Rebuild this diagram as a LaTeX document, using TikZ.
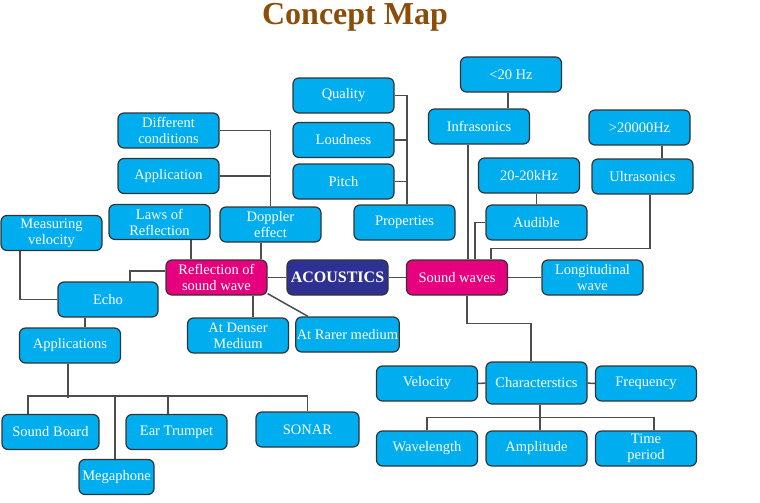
\documentclass[tikz,border=0pt]{standalone}
\usepackage{fontspec}
\setmainfont{Liberation Serif}
\usetikzlibrary{calc, backgrounds}
\definecolor{boxcyan}{RGB}{0,174,239}
\definecolor{hubpink}{RGB}{230,0,126}
\definecolor{rootblue}{RGB}{46,49,146}
\definecolor{boxline}{RGB}{51,51,51}
\definecolor{linkgray}{RGB}{77,77,77}
\definecolor{titlebrown}{RGB}{139,78,9}
\tikzset{
  topic/.style={rectangle, rounded corners=6pt, draw=boxline, line width=1.2pt,
    fill=boxcyan, text=white, minimum width=101pt, minimum height=35pt,
    inner sep=1pt, align=center, font=\fontsize{14.5}{16}\selectfont},
  hub/.style={topic, fill=hubpink},
  root/.style={topic, fill=rootblue, font=\fontsize{16}{18}\selectfont\bfseries},
  link/.style={draw=linkgray, line width=1.5pt}
}

\begin{document}
\begin{tikzpicture}[x=1pt, y=-1pt]
\useasboundingbox (0,0) rectangle (760,503);

\node[font=\fontsize{32}{34}\selectfont\bfseries, text=titlebrown, inner sep=0pt, anchor=base] (title) at (355,25) {Concept Map};

% Centre
\node[root] (acoustics)  at (337.5,277.5) {ACOUSTICS};
\node[hub]  (reflection) at (216.5,277.5) {Reflection of\\sound wave};
\node[hub]  (soundw)     at (457,277.5)   {Sound waves};

% Reflection branch
\node[topic] (diffcond)    at (168.5,130.5) {Different\\conditions};
\node[topic] (application) at (168.5,176)   {Application};
\node[topic] (laws)        at (159.5,222)   {Laws of\\Reflection};
\node[topic] (doppler)     at (270.5,224.5) {Doppler\\effect};
\node[topic] (measvel)     at (51.5,233)    {Measuring\\velocity};
\node[topic, minimum width=100pt] (echo) at (108,299.5) {Echo};
\node[topic] (denser)      at (238,335.5)   {At Denser\\Medium};
\node[topic, minimum width=103pt] (rarer) at (347.5,334.5) {At Rarer medium};
\node[topic] (applications) at (70,345.5)   {Applications};
\node[topic, minimum width=97pt] (soundboard) at (50.5,432) {Sound Board};
\node[topic, minimum width=75pt] (megaphone)  at (116.5,477) {Megaphone};
\node[topic] (eartrumpet)  at (176.5,432)   {Ear Trumpet};
\node[topic, minimum width=103pt] (sonar) at (307.5,429.5) {SONAR};

% Sound waves branch
\node[topic] (quality)    at (343.5,95.5)  {Quality};
\node[topic] (loudness)   at (343.5,140)   {Loudness};
\node[topic] (pitch)      at (343.5,181.5) {Pitch};
\node[topic] (properties) at (404.5,222.5) {Properties};
\node[topic] (lowhz)      at (511,74.5)    {<20 Hz};
\node[topic] (infra)      at (479,126.5)   {Infrasonics};
\node[topic] (midhz)      at (529,175.5)   {20-20kHz};
\node[topic] (audible)    at (536.5,222.5) {Audible};
\node[topic] (highhz)     at (639.5,127.5) {>20000Hz};
\node[topic] (ultra)      at (642.5,176.5) {Ultrasonics};
\node[topic] (longit)     at (592.5,277.5) {Longitudinal\\wave};
\node[topic, minimum height=42pt] (charac) at (536.5,383) {Characterstics};
\node[topic] (velocity)   at (427,383.5)   {Velocity};
\node[topic] (frequency)  at (646,383.5)   {Frequency};
\node[topic] (wavelength) at (427,448.5)   {Wavelength};
\node[topic] (amplitude)  at (536.5,448.5) {Amplitude};
\node[topic] (timeper)    at (646,448.5)   {Time\\period};

\begin{scope}[on background layer]
% ── Reflection ──────────────────────────────────────────
\draw[link] (reflection) -- (acoustics);
\draw[link] (diffcond.east) -| (doppler.north);
\draw[link] (application.east) -| (doppler.north);
\draw[link] ([xshift=31.5pt]laws.south) -- ([xshift=31.5pt]laws.south |- reflection.north);
\draw[link] ([xshift=-9.5pt]doppler.south) -- ([xshift=-9.5pt]doppler.south |- reflection.north);
\draw[link] ([xshift=-31.5pt]measvel.south) |- (echo.west);
\draw[link] ([xshift=22pt]echo.north) |- ([yshift=6.5pt]reflection.west);
\draw[link] ([xshift=36.5pt]reflection.south) -- ([xshift=36.5pt]reflection.south |- denser.north);
\draw[link] ([yshift=2pt]reflection.south east) -- ([xshift=-39.5pt]rarer.north);
\draw[link] ([xshift=-23pt]echo.south) -- ([xshift=-23pt]echo.south |- applications.north);
\draw[link] ([xshift=-2pt]applications.south) -- ++(0,34);
\draw[link] ([xshift=-22.5pt]soundboard.north) -- ++(0,-18) -| (sonar.north);
\draw[link] ([xshift=-1.5pt]megaphone.north) -- ++(0,-63);
\draw[link] ([xshift=-8.5pt]eartrumpet.north) -- ++(0,-18);

% ── Sound waves ─────────────────────────────────────────
\draw[link] (acoustics) -- (soundw);
\draw[link] (soundw) -- (longit);
\draw[link] (quality.east) -| ([xshift=2.5pt]properties.north);
\draw[link] (loudness.east) -| ([xshift=2.5pt]properties.north);
\draw[link] (pitch.east) -| ([xshift=2.5pt]properties.north);
\draw[link] ([xshift=-3pt]lowhz.south) -- ([xshift=-3pt]lowhz.south |- infra.north);
\draw[link] ([xshift=-11pt]infra.south) -- ([xshift=-11pt]infra.south |- soundw.north);
\draw[link] (audible.north) -- (audible.north |- midhz.south);
\draw[link] (audible.west) -| ([xshift=18pt]soundw.north);
\draw[link] ([xshift=19.5pt]ultra.north) -- ([xshift=19.5pt]ultra.north |- highhz.south);
\draw[link] ([xshift=7.5pt]ultra.south) -- ++(0,54) -| ([xshift=34pt]soundw.north);
\draw[link] ([xshift=10pt]soundw.south) -- ++(0,28) -| ([xshift=-5.5pt]charac.north);
\draw[link] (velocity) -- (charac);
\draw[link] (charac) -- (frequency);
\draw[link] ([xshift=3.5pt]charac.south) -- ([xshift=3.5pt]amplitude.north);
\draw[link] (wavelength.north) -- ++(0,-13) -| ([xshift=8pt]timeper.north);
\end{scope}

\end{tikzpicture}
\end{document}
